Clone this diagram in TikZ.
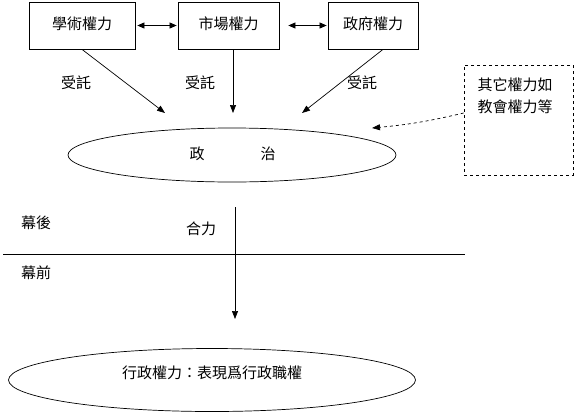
\documentclass[tikz,border=0pt]{standalone}
\usepackage{fontspec}
\setmainfont{Noto Sans CJK TC}
\usetikzlibrary{shapes.geometric,arrows.meta,calc}
\begin{document}
\begin{tikzpicture}[x=1pt,y=-1pt,
  every node/.style={font=\fontsize{15pt}{18pt}\selectfont},
  powerbox/.style={draw,line width=0.8pt,minimum height=47pt,inner sep=0pt},
  oval/.style={draw,ellipse,line width=0.7pt,inner sep=0pt},
  arr/.style={line width=0.7pt,-{Triangle[length=8pt,width=6pt]}},
  dbl/.style={line width=0.7pt,{Triangle[length=7pt,width=6pt]}-{Triangle[length=7pt,width=6pt]}},
  lbl/.style={inner sep=0pt}]
\useasboundingbox (0,0) rectangle (577,415);
% top boxes
\node[powerbox,minimum width=106pt] (b1) at (82,25.5) {\raisebox{5pt}{學術權力}};
\node[powerbox,minimum width=101pt] (b2) at (228.5,25.5) {\raisebox{5pt}{市場權力}};
\node[powerbox,minimum width=90pt] (b3) at (373,25.5) {\raisebox{5pt}{政府權力}};
\draw[dbl] (b1.east) ++(2,0) -- ($(b2.west)+(-1,0)$);
\draw[dbl] (b2.east) ++(9,0) -- ($(b3.west)+(-1,0)$);
% delegation arrows
\coordinate (t1) at (165,113);
\coordinate (t2) at (233,113);
\coordinate (t3) at (302,113);
\draw[arr] (b1.south) -- (t1);
\draw[arr] ($(b2.south)+(4.5,0)$) -- (t2);
\draw[arr] ($(b3.south)+(10,0)$) -- (t3);
\node[lbl] (l1) at (76,83) {受託};
\node[lbl] (l2) at (200,83) {受託};
\node[lbl] (l3) at (362,83) {受託};
% politics ellipse
\node[oval,minimum width=328pt,minimum height=54pt] (pol) at (232,155) {};
\node[lbl] (zheng) at (197,154) {政};
\node[lbl] (zhi) at (268,154) {治};
% other powers dashed box
\node[draw,dashed,line width=0.7pt,minimum width=109pt,minimum height=110pt,inner sep=0pt] (other) at (518.5,120) {};
\node[lbl,align=left] (otxt) at (515,96) {其它權力如\\[4pt]教會權力等};
\coordinate (ot) at (372,128);
\draw[line width=0.7pt,dashed,-{Triangle[length=8pt,width=6pt]}] (other.west |- 0,113) to[bend left=4] (ot);
% resultant force
\coordinate (v1) at (235,207);
\coordinate (v2) at (235,319);
\draw[arr] (v1) -- (v2);
\coordinate (h1) at (3,254);
\coordinate (h2) at (465,254);
\draw[line width=0.8pt] (h1) -- (h2);
\node[lbl] (mh) at (36,223) {幕後};
\node[lbl] (hl) at (201,229) {合力};
\node[lbl] (mq) at (36,273) {幕前};
% executive ellipse
\node[oval,minimum width=407pt,minimum height=63pt] (exec) at (212,380) {};
\node[lbl] (etxt) at (212,373) {行政權力：表現爲行政職權};
\end{tikzpicture}
\end{document}
